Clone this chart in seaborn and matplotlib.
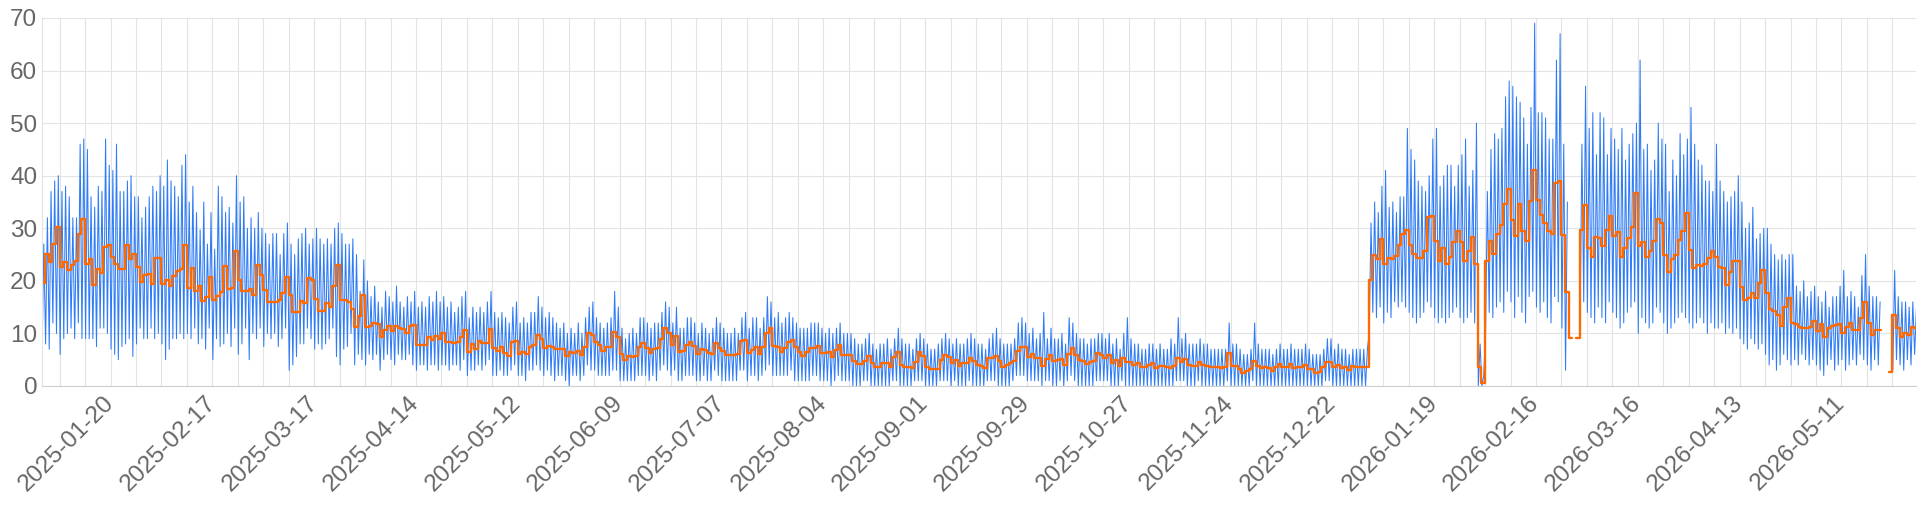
import numpy as np
import pandas as pd
import matplotlib
matplotlib.use("Agg")
import matplotlib.pyplot as plt
import matplotlib.dates as mdates
import seaborn as sns

nan = np.nan
start_day = "2025-01-01"

# daily average (orange step line), one value per day from 2025-01-01
daily_avg = [
    19.5, 25.1, 23.6, 27.0, 30.3, 22.6, 23.5,
    22.0, 23.0, 23.7, 29.0, 31.7, 23.3, 24.1,
    19.2, 22.2, 21.4, 26.4, 26.8, 24.5, 23.2,
    22.2, 22.2, 26.9, 24.1, 25.2, 22.6, 19.7,
    21.1, 21.3, 19.4, 24.4, 24.4, 19.4, 20.2,
    19.1, 20.9, 21.8, 22.2, 26.8, 18.6, 22.4,
    18.1, 19.1, 16.2, 17.0, 20.8, 16.4, 17.1,
    17.8, 22.9, 18.5, 18.6, 25.6, 20.2, 18.1,
    18.1, 18.5, 17.3, 23.0, 21.1, 18.3, 16.0,
    16.0, 15.9, 16.4, 17.6, 20.7, 17.3, 14.0,
    14.0, 16.2, 15.7, 20.5, 20.2, 16.5, 14.3,
    14.3, 15.7, 15.0, 19.0, 23.0, 16.4, 16.4,
    15.9, 14.6, 11.3, 13.3, 17.3, 11.3, 11.4,
    11.9, 11.8, 9.3, 10.6, 11.4, 10.4, 11.4,
    11.1, 10.8, 10.0, 11.4, 11.6, 7.8, 7.8,
    7.8, 9.3, 8.7, 9.5, 8.9, 10.1, 8.4,
    8.4, 8.1, 8.3, 9.3, 10.7, 6.5, 8.0,
    7.0, 8.6, 8.2, 8.2, 10.8, 7.2, 6.7,
    7.4, 6.2, 5.7, 8.4, 8.6, 6.1, 6.5,
    6.1, 7.5, 7.8, 9.7, 8.9, 7.2, 7.6,
    7.4, 7.0, 7.0, 7.0, 5.7, 6.5, 6.3,
    6.7, 5.9, 7.5, 10.0, 9.7, 8.4, 7.8,
    6.7, 7.5, 7.5, 10.3, 9.4, 6.1, 4.9,
    5.7, 5.5, 5.7, 7.5, 8.2, 7.2, 6.3,
    7.1, 7.2, 9.0, 11.0, 10.1, 7.8, 9.5,
    6.5, 6.7, 7.8, 8.4, 7.6, 6.1, 7.0,
    6.8, 6.2, 6.1, 8.2, 7.2, 6.7, 5.9,
    5.9, 5.9, 6.1, 8.6, 8.8, 6.3, 6.8,
    7.4, 6.1, 7.5, 10.1, 11.0, 7.6, 7.4,
    6.5, 7.2, 8.4, 8.8, 7.5, 6.5, 5.7,
    6.5, 7.2, 7.2, 7.6, 6.3, 6.3, 6.5,
    5.6, 6.8, 7.8, 5.9, 5.9, 5.9, 4.8,
    4.2, 4.2, 4.8, 5.7, 4.3, 3.6, 3.6,
    4.4, 4.3, 3.6, 5.5, 6.5, 4.0, 3.7,
    3.6, 3.4, 4.6, 6.5, 5.7, 3.7, 3.2,
    3.2, 3.2, 4.9, 5.9, 5.6, 4.4, 4.9,
    3.8, 4.4, 4.4, 5.3, 4.8, 4.0, 3.8,
    3.4, 5.3, 5.3, 5.7, 4.8, 3.6, 4.0,
    4.3, 4.8, 6.7, 7.4, 7.4, 5.5, 6.1,
    5.3, 5.3, 3.8, 5.1, 5.9, 4.8, 4.9,
    5.1, 4.0, 6.1, 7.2, 5.9, 4.9, 4.8,
    4.2, 4.6, 4.8, 6.3, 5.9, 5.3, 5.9,
    4.3, 4.9, 3.8, 5.3, 4.6, 4.6, 4.0,
    4.4, 3.7, 3.6, 4.0, 4.3, 3.4, 3.8,
    3.8, 3.6, 3.4, 3.8, 5.3, 4.6, 5.1,
    4.0, 3.8, 3.8, 4.6, 4.0, 3.8, 3.6,
    3.6, 3.6, 3.4, 3.6, 6.2, 3.8, 3.8,
    3.2, 2.5, 2.9, 3.2, 4.8, 3.8, 3.4,
    3.7, 3.4, 2.9, 3.6, 4.2, 3.6, 3.6,
    4.2, 3.4, 3.6, 3.6, 4.0, 3.2, 3.2,
    2.5, 2.7, 3.6, 4.6, 4.6, 3.6, 4.0,
    3.4, 3.7, 3.0, 3.8, 3.7, 3.6, 3.6,
    3.7, 20.2, 24.9, 24.1, 28.0, 23.2, 24.3,
    24.1, 24.7, 26.8, 28.9, 29.7, 26.8, 25.2,
    24.3, 24.3, 25.7, 32.1, 32.4, 27.5, 23.7,
    26.2, 23.2, 24.5, 27.3, 29.5, 27.3, 23.8,
    25.6, 28.3, 23.2, 3.7, 0.5, 23.8, 27.6,
    25.2, 29.0, 30.6, 34.7, 37.4, 31.5, 28.5,
    34.7, 29.4, 27.6, 35.1, 41.0, 35.3, 32.5,
    31.1, 29.4, 29.0, 38.7, 38.9, 28.7, 17.8,
    9.1, nan, 9.1, 29.7, 34.4, 26.2, 24.5,
    28.3, 28.1, 26.6, 29.7, 32.3, 28.5, 29.2,
    24.6, 26.2, 28.1, 30.3, 36.8, 26.6, 27.3,
    24.5, 25.7, 27.6, 31.7, 31.1, 24.9, 21.7,
    24.1, 24.9, 27.8, 29.4, 33.0, 25.9, 22.4,
    23.0, 22.8, 23.2, 24.3, 25.6, 24.6, 22.7,
    22.4, 19.2, 21.7, 23.7, 23.7, 18.8, 16.4,
    16.7, 17.6, 16.7, 19.5, 22.1, 17.6, 14.6,
    14.3, 13.5, 11.4, 15.1, 16.7, 12.0, 11.8,
    11.2, 11.0, 11.0, 11.3, 12.4, 10.5, 11.8,
    9.3, 11.0, 11.4, 11.6, 11.8, 10.0, 11.2,
    12.0, 10.7, 10.7, 12.9, 16.0, 11.9, 9.7,
    10.7, 10.7, nan, nan, 2.7, 13.5, 11.0,
    9.3, 10.1, 9.7, 11.2, 11.0,
]

# daily peak of the raw series (blue line)
daily_high = [
    27, 32, 37, 39, 40, 37, 38, 36, 32, 32, 46, 47, 45, 36,
    34, 38, 37, 47, 42, 41, 46, 37, 37, 39, 40, 36, 36, 32,
    34, 36, 38, 37, 40, 38, 43, 39, 38, 36, 42, 44, 35, 38,
    33, 29.7, 35, 27, 33, 26, 38, 36, 33, 34, 31, 40, 35, 36,
    30, 32, 30, 33, 30, 29, 27, 29, 29, 25, 29, 31, 27, 25,
    28, 29, 30, 27, 28, 30, 28, 27, 28, 27, 30, 31, 29, 27,
    27, 28, 25,
    18, 24, 20, 17, 19, 16, 15, 18, 17, 16, 19, 16, 15, 17, 16, 18,
    15, 16, 15, 17, 16, 18, 16, 17, 15, 16, 14, 15, 17, 18,
    13, 15, 14, 15, 14, 16, 18, 14, 13, 14, 13, 12, 15, 16,
    12, 13, 12, 14, 14, 17, 15, 13, 14, 13, 12,
    11, 12, 10, 11, 10, 12, 10, 13, 15, 16, 13, 12, 11, 12, 13,
    18, 15, 11, 9, 10, 11, 10, 13, 13, 12, 11, 12, 12, 14,
    16, 15, 12, 15, 11, 11, 13, 13, 12, 10, 12, 11, 10, 11,
    13, 12, 11, 10, 10, 11, 10, 13, 14, 11, 13, 13, 11,
    13, 17, 16, 13, 14, 12, 13, 14, 13, 12, 11, 11, 11, 12,
    12, 12, 11, 10, 11, 10, 11, 12, 10, 10, 10, 9, 8, 8,
    9, 10, 8, 7, 8, 8, 9, 7, 9, 11, 9, 8, 8, 7,
    9, 10, 9, 8, 7, 7, 8, 9, 10, 9, 8, 9, 8, 8,
    9, 10, 9, 8, 8, 7, 9, 10, 11, 9, 8, 8, 8, 9,
    12, 13, 12, 10, 11, 9, 10, 14, 9, 11, 9, 9, 10, 8,
    13, 12, 10, 9, 9, 8, 9, 9, 10, 10, 9, 10, 8, 9,
    7, 10, 13, 9, 8, 8, 7, 7, 8, 8, 7, 8, 7, 7, 9,
    8, 13, 9, 10, 8, 8, 8, 9, 8, 8, 7, 7, 7, 7,
    7, 12, 8, 8, 7, 6, 6, 7, 12, 8, 7, 7, 7, 6,
    7, 8, 7, 7, 8, 7, 7, 7, 8, 7, 6, 6, 6, 7,
    9, 9, 7, 8, 7, 7, 6, 7, 7, 7, 7, 7,
    31, 35, 33, 38, 41, 34, 35, 33, 36, 36, 49, 45, 43, 39,
    38, 37, 40, 47, 49, 38, 40, 42, 42, 38, 42, 44, 47, 38,
    41, 50, 8, 2,
    37, 45, 48, 47, 49, 55, 58, 57, 55, 54, 51, 46, 53, 69,
    52, 52, 51, 47, 47, 62, 67, 46, 35,
    nan, nan, nan,
    46, 57, 49, 52, 44, 52, 51, 44, 49, 47, 45, 49, 43, 46,
    48, 50, 62, 45, 46, 41, 43, 50, 47, 46, 37, 43, 40, 48,
    44, 47, 53, 46, 43, 42, 39, 39, 37, 46, 39, 37, 35, 36,
    37, 40, 35, 30, 31, 34, 28, 29, 30, 30, 27, 25, 24, 25,
    24, 25, 25, 19, 18, 20, 17, 18, 19, 17, 16, 18, 15, 17,
    17, 19, 22, 17, 18, 17, 15, 21, 25, 19, 17, 17, 16,
    nan, nan, nan,
    22, 17, 16, 16, 15, 16, 15,
]

# daily low of the raw series (blue line)
daily_low = [
    5, 8, 7, 12, 10, 6, 9, 10, 11, 9, 12, 9, 9, 9,
    9, 7.5, 11, 11, 10, 7, 6, 5, 7.5, 8, 9, 5.6, 8, 11,
    9, 9, 11, 9, 10, 8, 5, 7, 9, 9, 10, 9, 10, 9,
    11, 8, 9, 7, 11, 5, 9, 7.5, 8, 10, 7.5, 11, 6, 8,
    11, 5, 10, 9, 11, 7.5, 10, 9, 10, 7.5, 9, 11, 3, 4,
    5.6, 8, 8, 11, 9, 7, 8, 7, 8, 9, 11, 5.6, 4, 7,
    7.5, 10, 4,
    6, 5, 4, 6, 5, 6, 3, 5, 6, 5, 4, 6, 5, 5, 6, 4,
    3, 4, 4, 3, 4, 4, 3, 4, 4, 3, 4, 4, 3, 5,
    2, 3, 3, 4, 3, 4, 5, 2, 2, 3, 2, 2, 3, 4,
    2, 2, 1, 3, 3, 4, 3, 2, 3, 2, 1,
    2, 2, 1, 0, 2, 2, 1, 2, 4, 3, 3, 2, 2, 2, 2,
    3, 3, 1, 1, 1, 1, 1, 2, 2, 2, 1, 2, 1, 3,
    4, 3, 2, 3, 1, 1, 2, 2, 2, 1, 1, 2, 1, 1,
    3, 2, 1, 1, 1, 1, 1, 3, 3, 1, 2, 2, 1,
    2, 3, 4, 2, 2, 2, 2, 2, 3, 1, 1, 1, 1, 1,
    2, 2, 1, 1, 1, 0, 1, 2, 1, 1, 1, 0, 0, 0,
    1, 1, 0, 0, 0, 0, 0, 0, 1, 1, 0, 0, 0, 0,
    1, 1, 1, 0, 0, 0, 0, 1, 1, 1, 0, 1, 0, 0,
    0, 1, 0, 0, 0, 0, 1, 1, 1, 0, 0, 0, 0, 1,
    2, 2, 2, 1, 1, 1, 1, 0, 1, 1, 0, 0, 1, 0,
    1, 2, 1, 0, 0, 0, 0, 0, 1, 1, 1, 1, 0, 0,
    0, 1, 0, 0, 0, 0, 0, 0, 0, 0, 0, 0, 0, 0, 0,
    0, 1, 1, 1, 0, 0, 0, 1, 0, 0, 0, 0, 0, 0,
    0, 1, 0, 0, 0, 0, 0, 0, 1, 0, 0, 0, 0, 0,
    0, 0, 0, 0, 0, 0, 0, 0, 0, 0, 0, 0, 0, 0,
    1, 1, 0, 0, 0, 0, 0, 0, 0, 0, 0, 0,
    10, 14, 13, 15, 12, 14, 13, 16, 15, 16, 15, 14, 13, 12,
    13, 14, 16, 15, 13, 12, 13, 12, 13, 14, 15, 13, 12, 13,
    14, 12, 0, 0,
    10, 14, 13, 15, 16, 14, 18, 16, 13, 17, 14, 12, 17, 18,
    15, 14, 16, 13, 12, 17, 16, 11, 3,
    nan, nan, nan,
    12, 16, 14, 13, 12, 15, 13, 12, 16, 14, 13, 11, 12, 14,
    15, 16, 10, 13, 12, 11, 12, 15, 14, 12, 10, 11, 12, 13,
    14, 13, 12, 11, 12, 13, 12, 10, 12, 11, 11, 12, 10, 11,
    10, 11, 9, 8, 7, 9, 8, 7, 8, 6, 4, 5, 3, 4,
    6, 5, 4, 5, 4, 6, 5, 4, 5, 4, 3, 2, 4, 5,
    3, 4, 5, 3, 4, 5, 4, 6, 5, 4, 3, 5, 4,
    nan, nan, nan,
    3, 5, 4, 3, 5, 4, 6,
]

days = pd.date_range(start_day, periods=len(daily_avg), freq="D")

# raw series: low in the night, peak in the afternoon
raw = pd.DataFrame({
    "time": np.concatenate([days + pd.Timedelta(hours=3), days + pd.Timedelta(hours=15)]),
    "value": np.concatenate([daily_low, daily_high]),
})
raw = raw.sort_values("time").reset_index(drop=True)
raw["seg"] = raw["value"].isna().cumsum()
raw = raw.dropna()

avg = pd.DataFrame({"time": days, "value": daily_avg})
avg["seg"] = avg["value"].isna().cumsum()
avg = avg.dropna()
# close each step run so the last day keeps its width
ends = avg.groupby("seg").tail(1).copy()
ends["time"] = ends["time"] + pd.Timedelta(days=1)
avg = pd.concat([avg, ends]).sort_values(["seg", "time"])

sns.set_style("white")
plt.rcParams["font.family"] = ["Liberation Sans", "DejaVu Sans"]

fig = plt.figure(figsize=(19.2, 5.12), dpi=100)
ax = fig.add_axes([41.5 / 1920, 1 - 386 / 512, 1874.5 / 1920, 368 / 512])

sns.lineplot(data=raw, x="time", y="value", units="seg", estimator=None,
             color="#2f7cf6", linewidth=0.75, ax=ax, legend=False)
sns.lineplot(data=avg, x="time", y="value", units="seg", estimator=None,
             color="#ff6a00", linewidth=1.7, drawstyle="steps-post", ax=ax, legend=False)

ax.set_xlim(pd.Timestamp(start_day), pd.Timestamp("2026-05-31 12:00"))
ax.set_ylim(0, 70)
ax.set_yticks(range(0, 71, 10))

major = pd.date_range("2025-01-20", "2026-05-31", freq="28D")
minor = pd.date_range("2025-01-06", "2026-05-31", freq="7D")
ax.set_xticks(major)
ax.set_xticks(minor, minor=True)
ax.xaxis.set_major_formatter(mdates.DateFormatter("%Y-%m-%d"))

ax.grid(True, which="both", color="#e3e3e3", linewidth=0.8)
ax.set_axisbelow(True)
ax.tick_params(axis="y", length=0, pad=3, labelsize=17.5, labelcolor="#666666")
ax.tick_params(axis="x", which="both", length=5, color="#e3e3e3", pad=5,
               labelsize=17.5, labelcolor="#666666")
plt.setp(ax.get_xticklabels(), rotation=45, ha="right", va="center", rotation_mode="anchor")

for side in ["top", "right"]:
    ax.spines[side].set_visible(False)
ax.spines["left"].set_color("#e3e3e3")
ax.spines["bottom"].set_color("#cfcfcf")
ax.set_xlabel("")
ax.set_ylabel("")

fig.savefig("out.png", dpi=100)
